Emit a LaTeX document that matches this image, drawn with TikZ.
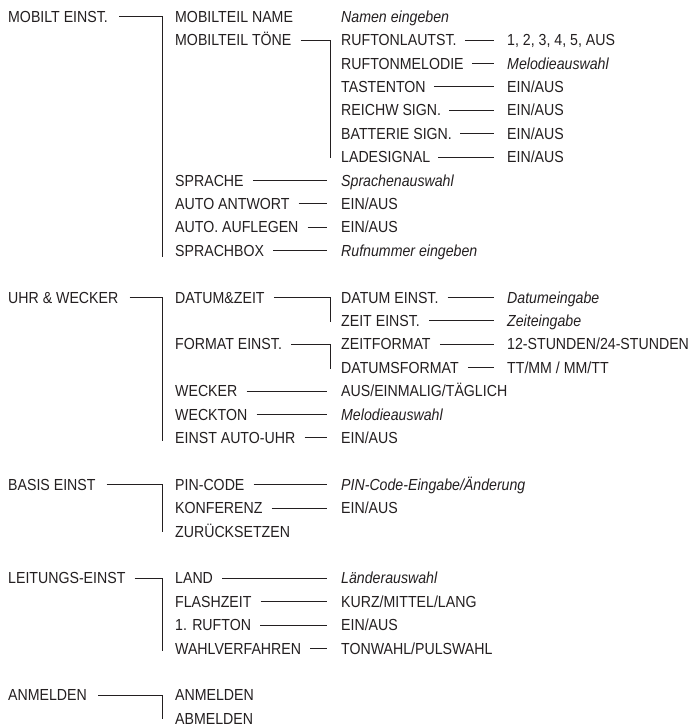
\documentclass[tikz,border=0pt]{standalone}
\usepackage{fontspec}
\setmainfont[FakeStretch=0.885]{Liberation Sans}
\definecolor{ink}{RGB}{35,31,32}
\def\R#1{16.6+23.4*#1}
\begin{document}
\begin{tikzpicture}[x=1pt,y=-1pt,
  lbl/.style={anchor=west,inner sep=0pt,text height=11.45pt,text depth=0pt,text=ink,font=\fontsize{16}{19}\selectfont},
  itl/.style={lbl,font=\fontsize{16}{19}\selectfont\itshape},
  ln/.style={draw=ink,line width=1pt}]
\useasboundingbox (0,0) rectangle (695,728);
% ---------- group 1
\node[lbl] (g1) at (8,\R{0}) {MOBILT EINST.};
\node[lbl] (a1) at (175,\R{0}) {MOBILTEIL NAME};
\node[itl] (a1v) at (341,\R{0}) {Namen eingeben};
\node[lbl] (a2) at (175,\R{1}) {MOBILTEIL TÖNE};
\node[lbl] (b1) at (341,\R{1}) {RUFTONLAUTST.};
\node[lbl] (b1v) at (507,\R{1}) {1, 2, 3, 4, 5, AUS};
\node[lbl] (b2) at (341,\R{2}) {RUFTONMELODIE};
\node[itl] (b2v) at (507,\R{2}) {Melodieauswahl};
\node[lbl] (b3) at (341,\R{3}) {TASTENTON};
\node[lbl] (b3v) at (507,\R{3}) {EIN/AUS};
\node[lbl] (b4) at (341,\R{4}) {REICHW SIGN.};
\node[lbl] (b4v) at (507,\R{4}) {EIN/AUS};
\node[lbl] (b5) at (341,\R{5}) {BATTERIE SIGN.};
\node[lbl] (b5v) at (507,\R{5}) {EIN/AUS};
\node[lbl] (b6) at (341,\R{6}) {LADESIGNAL};
\node[lbl] (b6v) at (507,\R{6}) {EIN/AUS};
\node[lbl] (a3) at (175,\R{7}) {SPRACHE};
\node[itl] (a3v) at (341,\R{7}) {Sprachenauswahl};
\node[lbl] (a4) at (175,\R{8}) {AUTO ANTWORT};
\node[lbl] (a4v) at (341,\R{8}) {EIN/AUS};
\node[lbl] (a5) at (175,\R{9}) {AUTO. AUFLEGEN};
\node[lbl] (a5v) at (341,\R{9}) {EIN/AUS};
\node[lbl] (a6) at (175,\R{10}) {SPRACHBOX};
\node[itl] (a6v) at (341,\R{10}) {Rufnummer eingeben};
\coordinate (g1e) at (162,\R{10}+6);
\coordinate (a2e) at (330,\R{6}+1);
\draw[ln] ([xshift=11pt]g1.east) -| (g1e);
\draw[ln] ([xshift=9pt]a2.east) -| (a2e);
\foreach \p in {b1,b2,b3,b4,b5,b6}
  \draw[ln] ([xshift=8pt]\p.east) -- ([xshift=-13pt]\p v.west);
\foreach \p in {a3,a4,a5,a6}
  \draw[ln] ([xshift=9pt]\p.east) -- ([xshift=-14pt]\p v.west);
% ---------- group 2
\node[lbl] (g2) at (8,\R{12}) {UHR \& WECKER};
\node[lbl] (c1) at (175,\R{12}) {DATUM\&ZEIT};
\node[lbl] (d1) at (341,\R{12}) {DATUM EINST.};
\node[itl] (d1v) at (507,\R{12}) {Datumeingabe};
\node[lbl] (d2) at (341,\R{13}) {ZEIT EINST.};
\node[itl] (d2v) at (507,\R{13}) {Zeiteingabe};
\node[lbl] (c2) at (175,\R{14}) {FORMAT EINST.};
\node[lbl] (d3) at (341,\R{14}) {ZEITFORMAT};
\node[lbl] (d3v) at (507,\R{14}) {12-STUNDEN/24-STUNDEN};
\node[lbl] (d4) at (341,\R{15}) {DATUMSFORMAT};
\node[lbl] (d4v) at (507,\R{15}) {TT/MM / MM/TT};
\node[lbl] (c3) at (175,\R{16}) {WECKER};
\node[lbl] (c3v) at (341,\R{16}) {AUS/EINMALIG/TÄGLICH};
\node[lbl] (c4) at (175,\R{17}) {WECKTON};
\node[itl] (c4v) at (341,\R{17}) {Melodieauswahl};
\node[lbl] (c5) at (175,\R{18}) {EINST AUTO-UHR};
\node[lbl] (c5v) at (341,\R{18}) {EIN/AUS};
\coordinate (g2e) at (162,\R{18}+3);
\coordinate (c1e) at (330,\R{13}+1);
\coordinate (c2e) at (330,\R{15}+1);
\draw[ln] ([xshift=11pt]g2.east) -| (g2e);
\draw[ln] ([xshift=9pt]c1.east) -| (c1e);
\draw[ln] ([xshift=9pt]c2.east) -| (c2e);
\foreach \p in {d1,d2,d3,d4}
  \draw[ln] ([xshift=9pt]\p.east) -- ([xshift=-13pt]\p v.west);
\foreach \p in {c3,c4,c5}
  \draw[ln] ([xshift=9pt]\p.east) -- ([xshift=-14pt]\p v.west);
% ---------- group 3
\node[lbl] (g3) at (8,\R{20}) {BASIS EINST};
\node[lbl] (e1) at (175,\R{20}) {PIN-CODE};
\node[itl] (e1v) at (341,\R{20}) {PIN-Code-Eingabe/Änderung};
\node[lbl] (e2) at (175,\R{21}) {KONFERENZ};
\node[lbl] (e2v) at (341,\R{21}) {EIN/AUS};
\node[lbl] (e3) at (175,\R{22}) {ZURÜCKSETZEN};
\coordinate (g3e) at (162,\R{22}+1);
\draw[ln] ([xshift=11pt]g3.east) -| (g3e);
\foreach \p in {e1,e2}
  \draw[ln] ([xshift=9pt]\p.east) -- ([xshift=-14pt]\p v.west);
% ---------- group 4
\node[lbl] (g4) at (8,\R{24}) {LEITUNGS-EINST};
\node[lbl] (f1) at (175,\R{24}) {LAND};
\node[itl] (f1v) at (341,\R{24}) {Länderauswahl};
\node[lbl] (f2) at (175,\R{25}) {FLASHZEIT};
\node[lbl] (f2v) at (341,\R{25}) {KURZ/MITTEL/LANG};
\node[lbl] (f3) at (175,\R{26}) {1. RUFTON};
\node[lbl] (f3v) at (341,\R{26}) {EIN/AUS};
\node[lbl] (f4) at (175,\R{27}) {WAHLVERFAHREN};
\node[lbl] (f4v) at (341,\R{27}) {TONWAHL/PULSWAHL};
\coordinate (g4e) at (162,\R{27}+3);
\draw[ln] ([xshift=9pt]g4.east) -| (g4e);
\foreach \p in {f1,f2,f3,f4}
  \draw[ln] ([xshift=9pt]\p.east) -- ([xshift=-14pt]\p v.west);
% ---------- group 5
\node[lbl] (g5) at (8,\R{29}) {ANMELDEN};
\node[lbl] (h1) at (175,\R{29}) {ANMELDEN};
\node[lbl] (h2) at (175,\R{30}) {ABMELDEN};
\coordinate (g5e) at (162,\R{30});
\draw[ln] ([xshift=11pt]g5.east) -| (g5e);
\end{tikzpicture}
\end{document}
